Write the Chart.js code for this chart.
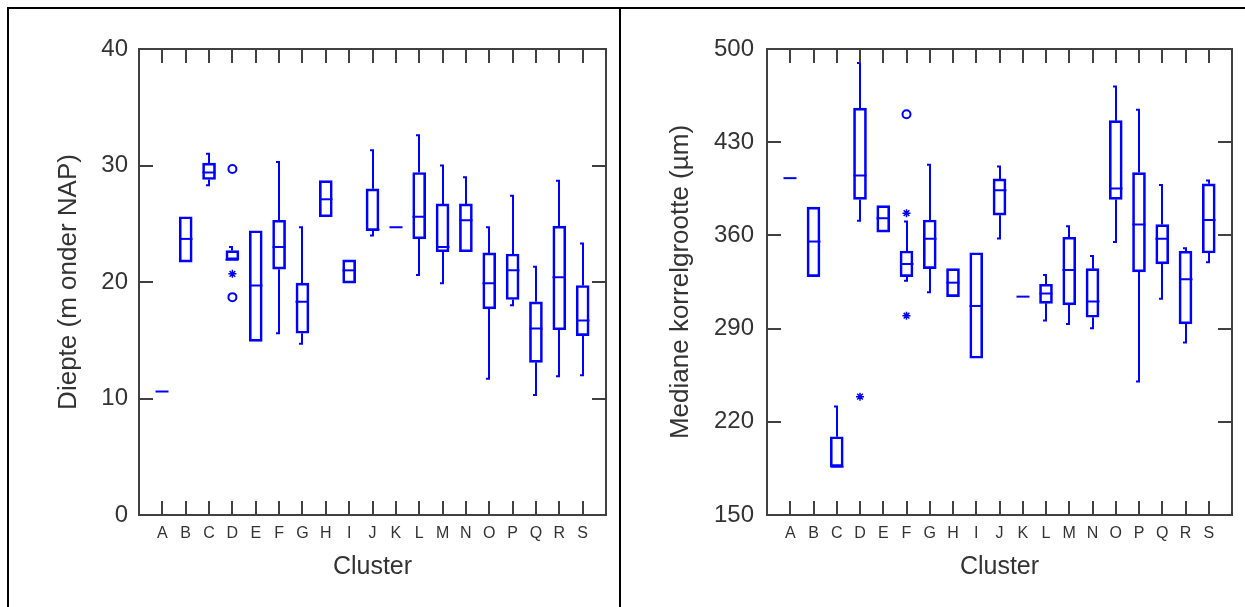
<!DOCTYPE html>
<html>
<head>
<meta charset="utf-8">
<title>Diepte en korrelgrootte per cluster</title>
<script src="https://cdn.jsdelivr.net/npm/chart.js@4.4.1/dist/chart.umd.min.js"></script>
<style>
    body { margin: 0; background: #fff; overflow: hidden; }
    #frame { position: absolute; left: 7px; top: 7px; width: 1245px; height: 610px; border-left: 2px solid #000; border-top: 2px solid #000; }
    #divider { position: absolute; left: 619px; top: 7px; width: 2px; height: 610px; background: #000; }
    canvas { position: absolute; }
</style>
</head>
<body>
<div id="frame"></div>
<div id="divider"></div>
<canvas id="diepteChart" width="609" height="598" style="left:10px; top:9px;"></canvas>
<canvas id="korrelChart" width="623" height="598" style="left:622px; top:9px;"></canvas>

<script>
// clusters
var clusters = ['A', 'B', 'C', 'D', 'E', 'F', 'G', 'H', 'I', 'J', 'K', 'L', 'M', 'N', 'O', 'P', 'Q', 'R', 'S'];

// diepte (m onder NAP): whisker low, q1, median, q3, whisker high
var diepteLo  = [10.6, 21.7, 28.3, 21.9, 14.9, 15.6, 14.7, 25.6, 19.9, 24.0, 24.7, 20.6, 19.9, 22.6, 11.7, 18.0, 10.3, 11.9, 12.0];
var diepteQ1  = [10.6, 21.7, 28.8, 21.9, 14.9, 21.1, 15.6, 25.6, 19.9, 24.4, 24.7, 23.7, 22.6, 22.6, 17.7, 18.5, 13.1, 15.9, 15.4];
var diepteMed = [10.6, 23.7, 29.4, 21.9, 19.7, 23.0, 18.3, 27.1, 21.0, 24.5, 24.7, 25.6, 23.0, 25.3, 19.9, 21.0, 16.0, 20.4, 16.7];
var diepteQ3  = [10.6, 25.6, 30.2, 22.7, 24.4, 25.3, 19.9, 28.7, 21.9, 28.0, 24.7, 29.4, 26.7, 26.7, 22.5, 22.4, 18.3, 24.8, 19.7];
var diepteHi  = [10.6, 25.6, 31.0, 23.0, 24.4, 30.3, 24.7, 28.7, 21.9, 31.3, 24.7, 32.6, 30.0, 29.0, 24.7, 27.4, 21.3, 28.7, 23.3];
var diepteOutCircle = [{ x: 'D', y: 29.7 }, { x: 'D', y: 18.7 }];
var diepteOutStar = [{ x: 'D', y: 20.7 }];
var diepteTicks = [0, 10, 20, 30, 40];

// mediane korrelgrootte (um)
var korrelLo  = [403, 329, 186.3, 371, 362.4, 326, 317.3, 314, 267.7, 357.6, 314, 296, 293.5, 290.3, 355.1, 250.2, 312.5, 279.5, 339.9];
var korrelQ1  = [403, 329, 186.3, 387, 362.4, 329, 335, 314, 267.7, 375.2, 314, 309, 307.8, 298.5, 387, 332.6, 338.6, 293.5, 346.8];
var korrelMed = [403, 355.4, 186.3, 405, 372.9, 338.6, 357.4, 324.5, 307, 394, 314, 316.3, 334, 310.3, 395.2, 368.1, 357.4, 327.1, 371.6];
var korrelQ3  = [403, 381.2, 208.8, 455.6, 382.4, 348.3, 371.6, 335, 347, 402.4, 314, 323.3, 358.6, 335, 446.2, 407.2, 368.1, 348.1, 398.7];
var korrelHi  = [403, 381.2, 231.4, 489.4, 382.4, 370.4, 413, 335, 347, 411.7, 314, 330.3, 366.9, 344.6, 471.8, 454.3, 397.9, 350.4, 401.2];
var korrelOutCircle = [{ x: 'F', y: 451 }];
var korrelOutStar = [{ x: 'D', y: 238.9 }, { x: 'F', y: 376.7 }, { x: 'F', y: 299.7 }];
var korrelTicks = [150, 220, 290, 360, 430, 500];

var blue = '#0000ff';
var axisGrey = '#404040';
var textGrey = '#333333';

// whiskers, medians, frame and inward ticks
var boxPlugin = {
    id: 'boxplot',
    afterDatasetsDraw: function (chart) {
        var b = chart.options.plugins.boxplot;
        var ctx = chart.ctx;
        var xs = chart.scales.x;
        var ys = chart.scales.y;
        var half = 6.5;

        ctx.save();
        ctx.strokeStyle = blue;
        ctx.lineWidth = 2;
        for (var i = 0; i < clusters.length; i++) {
            var x = Math.round(xs.getPixelForValue(i + 1));
            ctx.beginPath();
            // median
            var m = ys.getPixelForValue(b.med[i]);
            ctx.moveTo(x - half, m);
            ctx.lineTo(x + half, m);
            // whiskers
            if (b.hi[i] > b.q3[i]) {
                var top = ys.getPixelForValue(b.hi[i]);
                ctx.moveTo(x, ys.getPixelForValue(b.q3[i]));
                ctx.lineTo(x, top);
                ctx.moveTo(x - 3, top);
                ctx.lineTo(x + 1, top);
            }
            if (b.lo[i] < b.q1[i]) {
                var bot = ys.getPixelForValue(b.lo[i]);
                ctx.moveTo(x, ys.getPixelForValue(b.q1[i]));
                ctx.lineTo(x, bot);
                ctx.moveTo(x - 3, bot);
                ctx.lineTo(x + 1, bot);
            }
            ctx.stroke();
        }
        ctx.restore();

        var a = chart.chartArea;
        ctx.save();
        ctx.strokeStyle = axisGrey;
        ctx.lineWidth = 2;
        ctx.strokeRect(a.left, a.top, a.right - a.left, a.bottom - a.top);
        ctx.beginPath();
        for (var j = 0; j < clusters.length; j++) {
            var tx = Math.round(xs.getPixelForValue(j + 1));
            ctx.moveTo(tx, a.bottom);
            ctx.lineTo(tx, a.bottom - 14);
            ctx.moveTo(tx, a.top);
            ctx.lineTo(tx, a.top + 14);
        }
        for (var k = 0; k < b.ticks.length; k++) {
            var ty = Math.round(ys.getPixelForValue(b.ticks[k]));
            ctx.moveTo(a.left, ty);
            ctx.lineTo(a.left + 14, ty);
            ctx.moveTo(a.right, ty);
            ctx.lineTo(a.right - 14, ty);
        }
        ctx.stroke();
        ctx.restore();
    }
};

function makeChart(id, opt) {
    var boxes = clusters.map(function (c, i) {
        return { x: c, y: [opt.q1[i], opt.q3[i]] };
    });

    return new Chart(document.getElementById(id), {
        type: 'bar',
        data: {
            labels: [''].concat(clusters, ['']),
            datasets: [{
                type: 'bar',
                data: boxes,
                backgroundColor: 'rgba(0,0,0,0)',
                borderColor: blue,
                borderWidth: 2,
                borderSkipped: false,
                barThickness: 13
            }, {
                type: 'scatter',
                data: opt.outCircle,
                pointStyle: 'circle',
                radius: 4,
                borderColor: blue,
                borderWidth: 2,
                backgroundColor: 'rgba(0,0,0,0)'
            }, {
                type: 'scatter',
                data: opt.outStar,
                pointStyle: 'star',
                radius: 4,
                borderColor: blue,
                borderWidth: 1.5,
                backgroundColor: 'rgba(0,0,0,0)'
            }]
        },
        options: {
            responsive: false,
            animation: false,
            devicePixelRatio: 1,
            layout: { padding: { top: 40, right: 13, left: 0, bottom: 0 } },
            plugins: {
                legend: { display: false },
                tooltip: { enabled: false },
                boxplot: { lo: opt.lo, q1: opt.q1, med: opt.med, q3: opt.q3, hi: opt.hi, ticks: opt.ticks }
            },
            scales: {
                x: {
                    type: 'category',
                    offset: false,
                    grid: { display: false, drawTicks: false },
                    border: { display: false },
                    ticks: {
                        autoSkip: false,
                        maxRotation: 0,
                        padding: 9,
                        color: textGrey,
                        font: { family: 'Liberation Sans, Arial, sans-serif', size: 16 }
                    },
                    title: {
                        display: true,
                        text: 'Cluster',
                        color: textGrey,
                        padding: { top: 0, bottom: 25 },
                        font: { family: 'Liberation Sans, Arial, sans-serif', size: 25 }
                    },
                    afterFit: function (scale) { scale.height = 92; }
                },
                y: {
                    type: 'linear',
                    min: opt.ticks[0],
                    max: opt.ticks[opt.ticks.length - 1],
                    grid: { display: false, drawTicks: false },
                    border: { display: false },
                    afterBuildTicks: function (scale) {
                        scale.ticks = opt.ticks.map(function (v) { return { value: v }; });
                    },
                    ticks: {
                        padding: opt.tickPad,
                        color: textGrey,
                        font: { family: 'Liberation Sans, Arial, sans-serif', size: 24 }
                    },
                    title: {
                        display: true,
                        text: opt.yTitle,
                        color: textGrey,
                        padding: { top: 43, bottom: 0 },
                        font: { family: 'Liberation Sans, Arial, sans-serif', size: 26 }
                    },
                    afterFit: function (scale) { scale.width = opt.yWidth; }
                }
            }
        },
        plugins: [boxPlugin]
    });
}

makeChart('diepteChart', {
    lo: diepteLo, q1: diepteQ1, med: diepteMed, q3: diepteQ3, hi: diepteHi,
    outCircle: diepteOutCircle, outStar: diepteOutStar, ticks: diepteTicks,
    yTitle: 'Diepte (m onder NAP)', yWidth: 129, tickPad: 11
});

makeChart('korrelChart', {
    lo: korrelLo, q1: korrelQ1, med: korrelMed, q3: korrelQ3, hi: korrelHi,
    outCircle: korrelOutCircle, outStar: korrelOutStar, ticks: korrelTicks,
    yTitle: 'Mediane korrelgrootte (µm)', yWidth: 145, tickPad: 13
});
</script>
</body>
</html>
